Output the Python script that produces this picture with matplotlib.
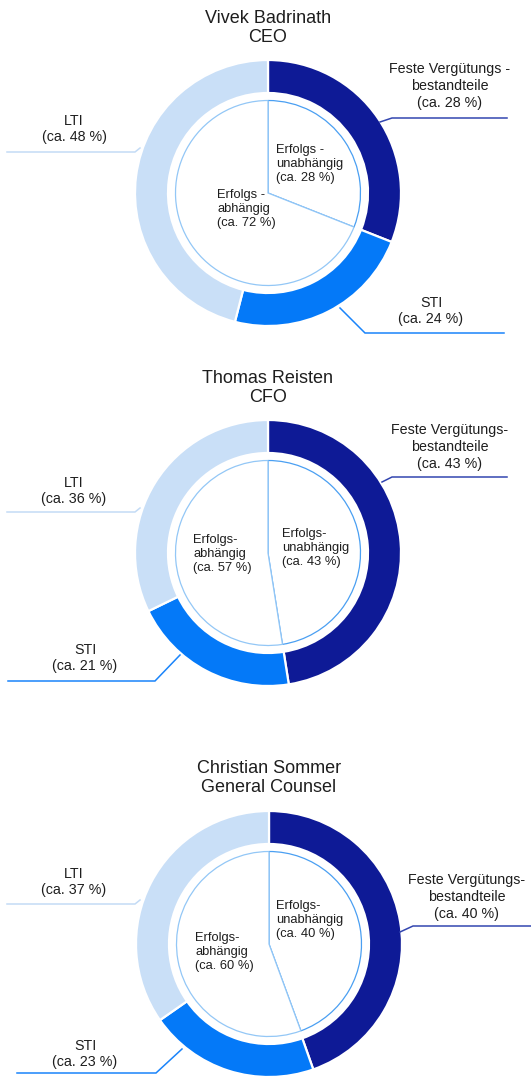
import matplotlib
matplotlib.use("Agg")
import matplotlib.pyplot as plt

# ---------------- data ----------------
titles = ["Vivek Badrinath\nCEO", "Thomas Reisten\nCFO", "Christian Sommer\nGeneral Counsel"]
outer_categories = ["Feste Vergütungsbestandteile", "STI", "LTI"]
# slice shares as drawn in the picture (percent)
outer_ceo = [31, 23, 46]
outer_cfo = [47.5, 20.3, 32.2]
outer_gc = [44.6, 20.7, 34.7]
inner_categories = ["Erfolgsunabhängig", "Erfolgsabhängig"]
inner_ceo = [31, 69]
inner_cfo = [47.5, 52.5]
inner_gc = [44.4, 55.6]
# printed labels
fix_labels = ["Feste Vergütungs -\nbestandteile\n(ca. 28 %)",
              "Feste Vergütungs-\nbestandteile\n(ca. 43 %)",
              "Feste Vergütungs-\nbestandteile\n(ca. 40 %)"]
sti_labels = ["STI\n(ca. 24 %)", "STI\n(ca. 21 %)", "STI\n(ca. 23 %)"]
lti_labels = ["LTI\n(ca. 48 %)", "LTI\n(ca. 36 %)", "LTI\n(ca. 37 %)"]
unab_labels = ["Erfolgs -\nunabhängig\n(ca. 28 %)", "Erfolgs-\nunabhängig\n(ca. 43 %)", "Erfolgs-\nunabhängig\n(ca. 40 %)"]
abh_labels = ["Erfolgs -\nabhängig\n(ca. 72 %)", "Erfolgs-\nabhängig\n(ca. 57 %)", "Erfolgs-\nabhängig\n(ca. 60 %)"]

outer_vals = [outer_ceo, outer_cfo, outer_gc]
inner_vals = [inner_ceo, inner_cfo, inner_gc]

# ---------------- style / layout ----------------
W, H = 531, 1077
plt.rcParams['font.family'] = ['Liberation Sans', 'DejaVu Sans']
NAVY = '#0e1a96'
BLUE = '#0479f8'
LIGHT = '#c9dff7'
TXT = '#1e1e1e'
colors = [NAVY, BLUE, LIGHT]

fig = plt.figure(figsize=(W / 100, H / 100), dpi=100)
ax = fig.add_axes([0, 0, 1, 1])

def Y(y):
    return H - y

centers = [(268, 193), (268, 553), (269, 944)]
R_out = 133
ring_w = 33
r_in = 92.5

title_y = [28, 388, 778]

fix_pos = [(450, 86), (450, 447), (467, 897)]
sti_pos = [(431, 311), (85, 658), (85, 1054)]
lti_pos = [(74, 129), (74, 491), (74, 882)]
unab_pos = [(276, 164), (282, 548), (276, 920)]
abh_pos = [(217, 209), (193, 554), (195, 952)]

fix_lines = [[(380, 122), (392, 118), (507, 118)],
             [(382, 482), (392, 477), (507, 477)],
             [(400, 932), (413, 926), (531, 926)]]
sti_lines = [[(340, 308), (365, 333), (504, 333)],
             [(180, 655), (155, 681), (8, 681)],
             [(182, 1049), (156, 1073), (17, 1073)]]
lti_lines = [[(140, 148), (135, 152), (7, 152)],
             [(140, 508), (135, 512), (7, 512)],
             [(140, 900), (135, 904), (7, 904)]]

for i in range(3):
    cx, cy = centers[i]
    wedges, _ = ax.pie(outer_vals[i], colors=colors, startangle=90, counterclock=False,
                       center=(cx, Y(cy)), radius=R_out,
                       wedgeprops=dict(width=ring_w, edgecolor='white', linewidth=1.6))
    iw, _ = ax.pie(inner_vals[i], colors=['white', 'white'], startangle=90, counterclock=False,
                   center=(cx, Y(cy)), radius=r_in,
                   wedgeprops=dict(linewidth=0.9))
    iw[0].set_edgecolor('#4a9ff2')
    iw[0].set_zorder(2)
    iw[1].set_edgecolor('#93c7f6')
    iw[1].set_zorder(3)

    ax.text(cx, Y(title_y[i]), titles[i], ha='center', va='center', fontsize=13,
            color=TXT, linespacing=1.23)
    ax.text(fix_pos[i][0], Y(fix_pos[i][1]), fix_labels[i], ha='center', va='center',
            fontsize=10.3, color=TXT, linespacing=1.27)
    ax.text(sti_pos[i][0], Y(sti_pos[i][1]), sti_labels[i], ha='center', va='center',
            fontsize=10.3, color=TXT, linespacing=1.27)
    ax.text(lti_pos[i][0], Y(lti_pos[i][1]), lti_labels[i], ha='center', va='center',
            fontsize=10.3, color=TXT, linespacing=1.27)
    ax.text(unab_pos[i][0], Y(unab_pos[i][1]), unab_labels[i], ha='left', va='center',
            fontsize=9.3, color=TXT, linespacing=1.24, zorder=5)
    ax.text(abh_pos[i][0], Y(abh_pos[i][1]), abh_labels[i], ha='left', va='center',
            fontsize=9.3, color=TXT, linespacing=1.24, zorder=5)

    for pts, col in ((fix_lines[i], '#3346b0'), (sti_lines[i], '#1a84fa'), (lti_lines[i], '#c3dbf5')):
        ax.plot([p[0] for p in pts], [Y(p[1]) for p in pts], color=col, lw=1.1,
                solid_joinstyle='miter', zorder=1)

ax.set_xlim(0, W)
ax.set_ylim(0, H)
ax.set_aspect('equal')
ax.axis('off')
fig.savefig('out.png', dpi=100, facecolor='white')
